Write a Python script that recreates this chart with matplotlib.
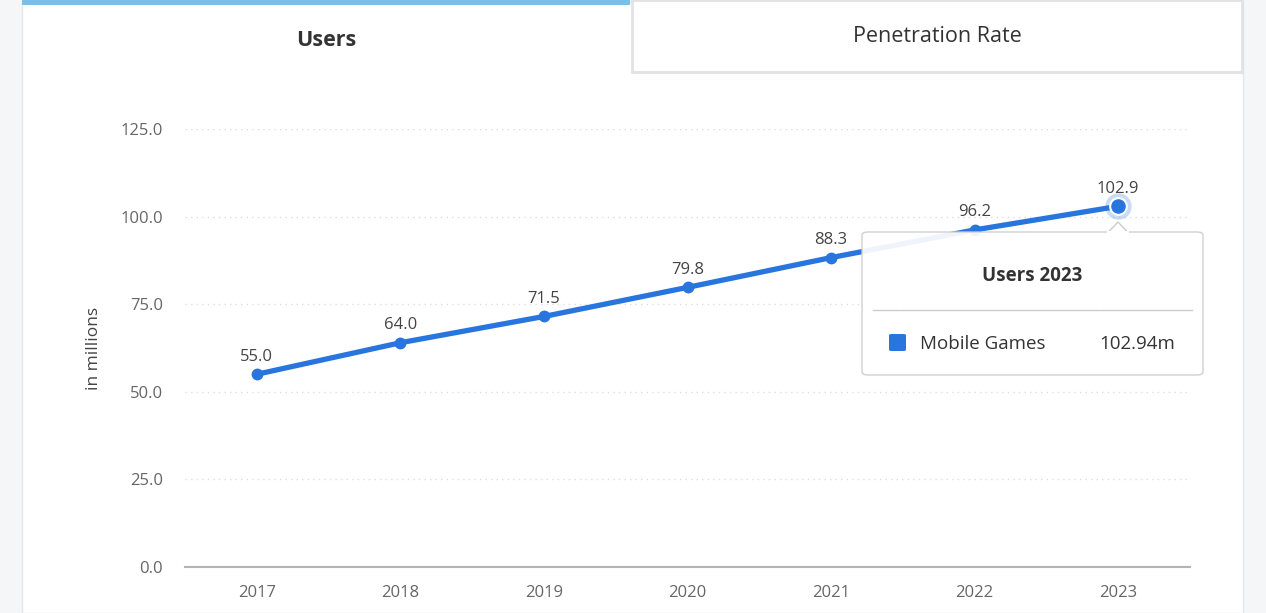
import matplotlib.pyplot as plt
from matplotlib.patches import Rectangle, FancyBboxPatch, Polygon
from matplotlib.lines import Line2D

years = ['2017', '2018', '2019', '2020', '2021', '2022', '2023']
users = [55.0, 64.0, 71.5, 79.8, 88.3, 96.2, 102.94]
labels = ['55.0', '64.0', '71.5', '79.8', '88.3', '96.2', '102.9']
yticks = [0, 25, 50, 75, 100, 125]

plt.rcParams['font.family'] = ['Open Sans', 'DejaVu Sans']
blue = '#2876dd'
W, H = 1266, 613

fig = plt.figure(figsize=(12.66, 6.13), dpi=100)
fig.patch.set_facecolor('#f5f6f8')

def px(x, y):
    return x / W, 1 - y / H

# card + tabs
fig.patches.append(Rectangle(px(22, 613), (1243 - 22) / W, 611 / H, transform=fig.transFigure,
                             facecolor='white', edgecolor='#e6e6e6', lw=1, zorder=-5))
fig.patches.append(Rectangle(px(22, 5), (630 - 22) / W, 5 / H, transform=fig.transFigure,
                             facecolor='#7fbde9', edgecolor='none', zorder=-4))
fig.patches.append(Rectangle(px(632, 72), (1242 - 632) / W, 72 / H, transform=fig.transFigure,
                             facecolor='white', edgecolor='#e2e2e2', lw=2, zorder=-4))
fig.text(*px(326, 40), 'Users', ha='center', va='center', fontsize=15.5, fontweight='bold', color='#333333')
fig.text(*px(937, 37), 'Penetration Rate', ha='center', va='center', fontsize=15.5, color='#333333')

ax = fig.add_axes([185 / W, (613 - 567) / H, (1190 - 185) / W, (567 - 129) / H])
ax.set_facecolor('none')
x = list(range(len(years)))
ax.plot(x, users, color=blue, lw=3.8, marker='o', ms=7.5, zorder=3, solid_capstyle='round')
ax.plot(x[-1], users[-1], 'o', ms=19, color=blue, alpha=0.25, mec='none', zorder=2)
ax.plot(x[-1], users[-1], 'o', ms=12, color=blue, mec='white', mew=1.5, zorder=4)
for xi, v, t in zip(x, users, labels):
    ax.annotate(t, (xi, v), xytext=(0, 7), textcoords='offset points', ha='center', va='bottom',
                fontsize=12, color='#444444', zorder=5)

ax.set_xlim(-0.5, 6.5)
ax.set_ylim(0, 125)
ax.set_xticks(x)
ax.set_xticklabels(years)
ax.set_yticks(yticks)
ax.set_yticklabels([f'{t:.1f}' for t in yticks])
ax.tick_params(axis='both', length=0, labelsize=12, labelcolor='#666666')
ax.tick_params(axis='x', pad=13)
ax.tick_params(axis='y', pad=16)
for s in ['top', 'right', 'left']:
    ax.spines[s].set_visible(False)
ax.spines['bottom'].set_color('#b3b3b3')
ax.spines['bottom'].set_linewidth(1.5)
for t in yticks[1:]:
    ax.axhline(t, color='#dddddd', lw=1, ls=(0, (1, 3)), zorder=1)
ax.set_ylabel('in millions', fontsize=12.5, color='#444444')
ax.yaxis.set_label_coords(-0.083, 0.5)

# tooltip
tip = FancyBboxPatch(px(862, 375), (1203 - 862) / W, (375 - 232) / H, boxstyle='round,pad=0,rounding_size=0.005',
                     transform=fig.transFigure, facecolor='white', edgecolor='#cccccc', lw=1, alpha=0.93, zorder=10)
fig.patches.append(tip)
fig.patches.append(Polygon([px(1108, 232.5), px(1118, 222), px(1128, 232.5)], closed=True,
                           transform=fig.transFigure, facecolor='white', edgecolor='#cccccc', lw=1, zorder=10))
fig.patches.append(Rectangle(px(1107, 234), 22 / W, 3 / H, transform=fig.transFigure,
                             facecolor='white', edgecolor='none', zorder=11))
fig.text(*px(1032, 276), 'Users 2023', ha='center', va='center', fontsize=13.5, fontweight='bold',
         color='#333333', zorder=12)
fig.lines.append(Line2D([873 / W, 1192 / W], [1 - 310 / H] * 2, transform=fig.transFigure,
                        color='#cccccc', lw=1, zorder=12))
fig.patches.append(FancyBboxPatch(px(889, 351), 17 / W, 17 / H, boxstyle='round,pad=0,rounding_size=0.002',
                                  transform=fig.transFigure, facecolor=blue, edgecolor='none', zorder=12))
fig.text(*px(920, 344), 'Mobile Games', ha='left', va='center', fontsize=13.5, color='#333333', zorder=12)
fig.text(*px(1175, 344), f'{users[-1]:.2f}m', ha='right', va='center', fontsize=13.5, color='#333333', zorder=12)

fig.savefig('out.png', dpi=100, facecolor=fig.get_facecolor())
